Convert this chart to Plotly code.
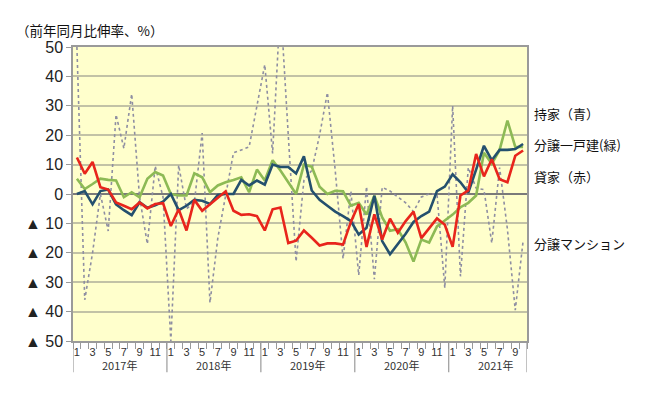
import plotly.graph_objects as go

years = [2017, 2018, 2019, 2020, 2021]
months_last_year = 10
month_labels = []
year_of = []
for y in years:
    last = 12 if y != 2021 else months_last_year
    for m in range(1, last + 1):
        month_labels.append(m)
        year_of.append(y)

# 持家（青）
owned = [0, 1, -3.5, 1, 1.5, -3.5, -5.5, -7.2, -2.8, -4.7, -3.8, -2.6,
         0, -5.5, -4, -2, -2.3, -3.4, -0.3, 0, 0, 4.8, 2.9, 4.6,
         3.2, 10, 9.2, 9.2, 7, 12.8, 1.2, -2, -4, -6, -7.5, -9.2,
         -13.8, -11.5, -0.6, -16, -20.5, -17, -13.5, -9.5, -7.5, -6, 1, 2.5,
         6.7, 4, 0.5, 8.3, 16.4, 11.5, 15, 15, 15.3, 17]
# 分譲一戸建（緑）
detached = [5.2, 1.7, 3.4, 5.2, 4.8, 4.6, -1.1, 0.6, -1.1, 5.2, 7.5, 6.3,
            0, -0.5, -0.5, 7, 5.7, 0.6, 2.9, 4, 4.8, 5.7, 0.6, 8.3,
            4.6, 11.5, 8, 4, 0, 10, 9.3, 2.5, 0, 1.1, 0.9, -4,
            -3, -7, -0.6, -8, -12.5, -12, -16.5, -23, -15.5, -16.5, -11, -9,
            -7, -4.5, -3, -0.5, 14, 10.3, 15, 25, 16, 16]
# 貸家（赤）
rental = [12.4, 6.9, 10.9, 2.3, 1.5, -2.9, -4, -5.2, -2.9, -4.9, -3.4, -3.1,
          -10.9, -5.2, -12.4, -2, -5.7, -3.4, -1.1, 0.9, -5.7, -7.1, -6.9, -7.5,
          -12.4, -5.2, -4.6, -16.7, -15.9, -12.4, -14.9, -17.5, -16.8, -16.8, -17.2, -9.5,
          -3.4, -18, -6.9, -15.5, -8.4, -13.2, -9.2, -6, -15, -11.5, -8.3, -10.5,
          -18, -0.5, 1.2, 13.6, 6, 11.8, 5, 4, 13, 14.8]
# 分譲マンション
condo = [50, -36, -20, 0, -12.6, 27, 15.5, 34, -1, -17, 9.5, -1,
         -50, 9.8, -5, -3, 20.7, -37, -15, 0, 14, 15, 16, 30,
         44, 13.8, 65, 20, -23, 4.6, 8, 20, 34.5, 8, -22, 1,
         -27.6, 2.5, -29, 2.3, 1, -1, -3, -6, -1, 0, 0, -32,
         30, -28, 9, 2, 1.5, -16.7, 9, -12, -39.5, -16]

y_ticks = [50, 40, 30, 20, 10, 0, -10, -20, -30, -40, -50]
y_ticktext = [str(v) if v >= 0 else "▲ " + str(-v) for v in y_ticks]

series_labels = ["持家（青）", "分譲一戸建(緑)", "貸家（赤）", "分譲マンション"]
label_y = [27.5, 17, 6, -17]

x = list(range(len(month_labels)))
n = len(x)

fig = go.Figure()
fig.add_trace(go.Scatter(x=x, y=condo, mode="lines", name="分譲マンション",
                         line=dict(color="#8E8EA2", width=1.6, dash="dot")))
fig.add_trace(go.Scatter(x=x, y=detached, mode="lines", name="分譲一戸建",
                         line=dict(color="#8DBA55", width=2.6)))
fig.add_trace(go.Scatter(x=x, y=owned, mode="lines", name="持家",
                         line=dict(color="#24506E", width=2.6)))
fig.add_trace(go.Scatter(x=x, y=rental, mode="lines", name="貸家",
                         line=dict(color="#E8251C", width=2.6)))

tick_idx = [i for i, m in enumerate(month_labels) if m % 2 == 1]
fig.update_xaxes(
    range=[-0.5, n - 0.5],
    tickmode="array",
    tickvals=tick_idx,
    ticktext=[str(month_labels[i]) for i in tick_idx],
    ticks="",
    showgrid=False,
    showline=True, linecolor="#9A9A9A", linewidth=1.5, mirror=True,
    tickfont=dict(family="Liberation Sans, Arial", size=11, color="#333"),
    minor=dict(tickmode="array", tickvals=[i - 0.5 for i in range(n + 1)],
               ticks="outside", ticklen=6, tickcolor="#9A9A9A", tickwidth=1),
    zeroline=False,
)
fig.update_yaxes(
    range=[-50, 50],
    tickmode="array",
    tickvals=y_ticks,
    ticktext=y_ticktext,
    ticks="outside", ticklen=5, tickcolor="#9A9A9A",
    showgrid=True, gridcolor="#C2C2A6", gridwidth=1.5,
    zeroline=True, zerolinecolor="#7A7A7A", zerolinewidth=1.5,
    showline=True, linecolor="#9A9A9A", linewidth=1.5, mirror=True,
    tickfont=dict(family="Liberation Sans, Arial", size=16, color="#222"),
)

annotations = []
# year labels
for y in years:
    idx = [i for i, yy in enumerate(year_of) if yy == y]
    center = (idx[0] + idx[0] + 11) / 2
    annotations.append(dict(x=center, y=-0.082, xref="x", yref="paper",
                            yanchor="middle",
                            text=f"{y}年", showarrow=False,
                            font=dict(family="Noto Sans CJK JP", size=11, color="#333")))
# year separators
shapes = []
bounds = [i for i, m in enumerate(month_labels) if m == 1] + [n]
for b in bounds:
    shapes.append(dict(type="line", xref="x", yref="paper", x0=b - 0.5, x1=b - 0.5,
                       y0=0, y1=-0.106, line=dict(color="#9A9A9A", width=1.2)))
# series labels
for t, yy in zip(series_labels, label_y):
    annotations.append(dict(x=1.012, y=yy, xref="paper", yref="y", text=t,
                            showarrow=False, xanchor="left",
                            font=dict(family="Noto Sans CJK JP", size=13, color="#111")))
# unit title
annotations.append(dict(x=-0.13, y=1.058, xref="paper", yref="paper",
                        text="（前年同月比伸率、%）", showarrow=False,
                        xanchor="left", yanchor="middle",
                        font=dict(family="Noto Sans CJK JP", size=13.5, color="#111")))

fig.update_layout(
    width=650, height=399,
    margin=dict(l=65, r=131, t=39, b=66),
    plot_bgcolor="#FFFFCC",
    paper_bgcolor="white",
    showlegend=False,
    annotations=annotations,
    shapes=shapes,
)

fig.write_html("out.html")
